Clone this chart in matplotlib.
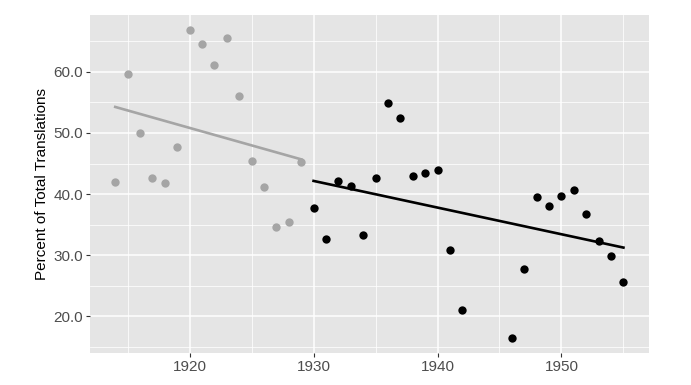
import numpy as np
import matplotlib.pyplot as plt
from matplotlib.ticker import MultipleLocator, FormatStrFormatter

plt.rcParams['font.family'] = ['Liberation Sans', 'DejaVu Sans']

# early period (grey) and later period (black)
years_early = [1914, 1915, 1916, 1917, 1918, 1919, 1920, 1921,
               1922, 1923, 1924, 1925, 1926, 1927, 1928, 1929]
pct_early = [42.0, 59.7, 50.0, 42.6, 41.8, 47.7, 66.8, 64.5,
             61.1, 65.5, 56.0, 45.4, 41.1, 34.6, 35.5, 45.3]

years_late = [1930, 1931, 1932, 1933, 1934, 1935, 1936, 1937, 1938, 1939,
              1940, 1941, 1942, 1946, 1947, 1948, 1949, 1950, 1951, 1952,
              1953, 1954, 1955]
pct_late = [37.8, 32.6, 42.2, 41.3, 33.3, 42.6, 54.9, 52.5, 42.9, 43.4,
            44.0, 30.8, 21.1, 16.5, 27.7, 39.6, 38.1, 39.7, 40.6, 36.8,
            32.4, 29.8, 25.6]

fig = plt.figure(figsize=(6.91, 3.85), dpi=100)
ax = fig.add_axes([0.130, 0.083, 0.809, 0.878])
ax.set_facecolor('#E5E5E5')

# gridlines like ggplot
ax.xaxis.set_minor_locator(MultipleLocator(5))
ax.yaxis.set_minor_locator(MultipleLocator(5))
ax.grid(which='major', color='white', linewidth=1.1)
ax.grid(which='minor', color='white', linewidth=0.55)
ax.set_axisbelow(True)

for yrs, pct, col in [(years_early, pct_early, '#A5A5A5'),
                      (years_late, pct_late, 'black')]:
    x = np.array(yrs)
    y = np.array(pct)
    ax.scatter(x, y, s=36, color=col, zorder=3, linewidths=0)
    m, b = np.polyfit(x, y, 1)
    xs = np.array([x.min(), x.max()])
    ax.plot(xs, m * xs + b, color=col, linewidth=1.9, zorder=2)

xr = 1955 - 1914
ax.set_xlim(1914 - 0.05 * xr, 1955 + 0.05 * xr)
ax.set_ylim(14.0, 69.3)
ax.set_yticks([20, 30, 40, 50, 60])
ax.set_xticks([1920, 1930, 1940, 1950])
ax.yaxis.set_major_formatter(FormatStrFormatter('%.1f'))

for s in ax.spines.values():
    s.set_visible(False)
ax.tick_params(which='major', length=3, color='#333333', labelcolor='#4D4D4D',
               labelsize=11, pad=2)
ax.tick_params(which='minor', length=0)
ax.set_ylabel('Percent of Total Translations', fontsize=11, color='black',
              labelpad=3)

fig.savefig('out.png', dpi=100)
